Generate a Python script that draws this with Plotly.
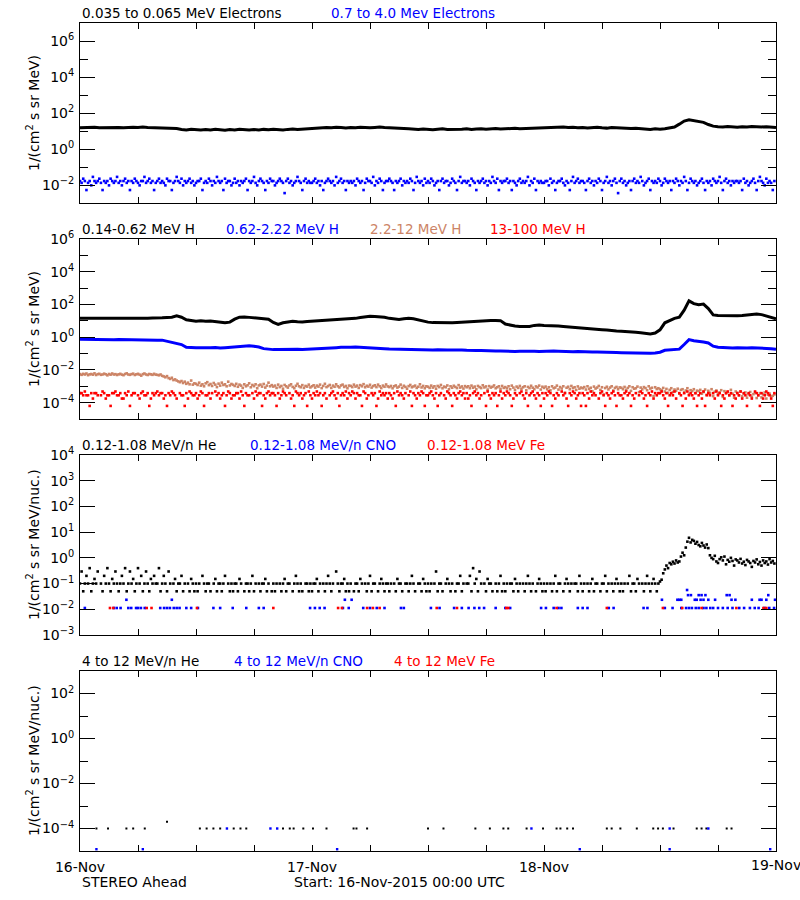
import numpy as np
import pandas as pd
import plotly.graph_objects as go

START = pd.Timestamp("2015-11-16 00:00")
END = pd.Timestamp("2015-11-19 00:00")

# ---------------- Panel 1: electrons ----------------
# 0.035-0.065 MeV electrons, log10 flux every 30 min
e_lo_log = [1.18,1.20,1.19,1.21,1.18,1.19,1.20,1.22,1.19,1.18,1.20,1.21,1.19,1.22,1.20,1.19,1.21,
            1.20,1.18,1.16,1.14,1.08,1.06,1.10,1.07,
            1.06,1.08,1.05,1.09,1.07,1.04,1.08,1.06,1.10,1.07,1.05,1.08,1.06,1.09,1.07,1.10,1.08,1.06,1.09,1.11,1.08,1.10,1.13,
            1.16,1.19,1.17,1.20,1.18,1.21,1.19,1.17,1.20,1.18,1.21,1.19,1.18,1.20,1.22,1.19,1.18,1.20,1.17,
            1.14,1.12,1.10,1.08,1.11,1.09,1.07,1.10,1.12,1.09,1.08,1.11,1.10,1.12,1.09,1.11,1.13,1.10,1.12,1.14,1.11,1.13,1.12,1.15,1.13,1.14,1.16,1.14,
            1.17,1.19,1.21,1.18,1.20,1.22,1.19,1.21,1.18,1.20,1.17,1.19,1.21,1.18,1.16,1.19,1.17,1.15,1.16,1.14,1.15,1.13,
            1.11,1.09,1.12,1.10,1.13,1.16,
            1.22,1.38,1.55,1.62,1.58,1.54,1.48,1.36,1.27,
            1.24,1.22,1.25,1.23,1.21,1.24,1.22,1.25,1.23,1.22,1.24,1.21,1.19]

# 0.7-4.0 MeV electrons: count-quantised levels (log10), 10-min codes
e_hi_levels = [-1.55, -1.65, -1.78, -1.88, -2.02, -2.28, -2.45]
e_hi_code = [3,4,2,3,6,4,3,5,1,3,4,3,2,4,6,3,4,3,5,2,3,4,3,1,
             4,3,5,3,2,4,3,6,3,4,2,3,4,5,3,3,1,4,3,2,4,3,6,4,
             3,2,4,3,4,5,2,3,3,6,4,3,1,3,4,2,5,3,4,3,2,4,3,5,
             4,3,3,2,6,4,3,4,2,3,5,3,4,1,3,4,3,6,2,4,3,3,5,4,
             2,4,3,5,3,4,3,2,6,3,4,3,1,4,5,3,2,3,4,6,3,4,2,3,
             3,5,4,3,2,3,4,7,3,2,4,3,5,4,3,1,3,4,6,3,2,4,3,4,
             4,3,2,4,3,5,3,6,4,3,2,3,4,3,5,1,4,3,2,4,3,6,3,4,
             3,4,3,5,2,3,4,3,6,4,2,3,3,4,1,5,3,4,2,3,6,4,3,3,
             2,3,4,6,3,4,3,2,5,3,4,3,4,2,3,6,4,1,3,4,3,5,2,4,
             3,4,2,3,5,4,3,6,3,2,4,3,3,5,4,2,3,4,6,3,1,4,3,3,
             4,3,5,2,3,4,6,3,4,3,2,4,3,5,3,4,1,3,4,2,6,3,4,3,
             3,2,4,3,6,3,4,5,3,2,4,3,4,3,1,5,3,4,2,6,3,4,3,4,
             4,3,3,5,2,4,3,6,4,3,3,2,4,5,3,4,6,3,1,4,3,2,4,3,
             3,4,6,3,2,4,3,5,3,4,2,3,6,4,3,1,4,3,5,3,2,4,7,3,
             2,4,3,5,4,3,6,3,2,4,3,4,1,3,5,4,3,2,6,3,4,3,4,2,
             3,5,4,2,3,4,3,6,3,4,2,3,5,3,4,1,3,6,4,2,3,4,3,5,
             4,3,2,4,6,3,4,3,5,2,3,4,3,1,4,6,3,2,4,3,5,3,4,3,
             3,4,3,6,2,4,3,5,4,3,2,4,6,3,1,3,4,5,2,4,3,4,6,3]

# ---------------- Panel 2: protons ----------------
# 0.14-0.62 MeV H, log10 every 30 min
h1_log = [1.16,1.15,1.16,1.15,1.15,1.16,1.15,1.14,1.15,1.16,1.15,1.15,1.14,1.15,1.16,1.17,1.16,1.18,1.20,1.22,
          1.30,1.22,1.06,1.00,0.98,1.00,0.97,0.99,0.96,0.93,0.88,0.92,1.10,1.22,1.24,1.21,1.19,1.18,1.15,1.10,0.90,0.78,0.88,0.95,
          0.98,0.95,0.93,0.96,0.98,1.00,0.99,1.03,1.05,1.07,1.08,1.10,1.12,1.15,1.20,1.25,1.28,1.27,1.25,1.22,1.15,1.10,1.08,1.12,
          1.15,1.12,1.05,0.98,0.92,0.89,0.88,0.89,0.87,0.88,0.90,0.92,0.94,0.98,1.00,1.02,1.03,1.02,1.02,1.01,0.80,0.72,0.68,0.66,
          0.64,0.66,0.72,0.75,0.72,0.72,0.70,0.68,0.66,0.63,0.62,0.58,0.54,0.51,0.50,0.48,0.46,0.44,0.40,0.38,0.37,0.36,0.33,0.30,0.27,0.22,0.20,0.25,
          0.45,0.88,1.00,1.15,1.22,1.65,2.22,2.05,1.98,2.02,1.75,1.36,
          1.33,1.32,1.34,1.33,1.31,1.33,1.35,1.40,1.42,1.38,1.30,1.22,1.13]

# 0.62-2.22 MeV H, log10 every 30 min
h2_log = [-0.12,-0.13,-0.12,-0.13,-0.14,-0.13,-0.14,-0.15,-0.14,-0.15,-0.16,-0.15,-0.16,-0.17,-0.16,-0.17,-0.18,-0.18,
          -0.25,-0.35,-0.38,-0.45,-0.62,-0.65,
          -0.65,-0.64,-0.66,-0.65,-0.63,-0.66,-0.64,-0.62,
          -0.56,-0.54,-0.55,-0.53,-0.56,-0.60,
          -0.70,-0.74,-0.76,-0.75,-0.74,-0.76,-0.75,-0.73,-0.75,-0.74,-0.72,
          -0.70,-0.68,-0.66,-0.65,-0.64,-0.62,-0.63,-0.62,-0.60,-0.61,-0.62,-0.64,-0.66,-0.68,-0.70,-0.72,-0.73,-0.74,
          -0.75,-0.74,-0.76,-0.75,-0.77,-0.76,-0.78,-0.77,-0.76,-0.78,-0.79,-0.77,-0.78,-0.80,-0.79,-0.81,-0.82,-0.84,-0.83,-0.85,-0.84,-0.86,-0.85,-0.87,
          -0.86,-0.85,-0.87,-0.86,-0.88,-0.86,-0.87,-0.85,-0.86,-0.88,-0.87,-0.89,-0.88,-0.90,-0.89,-0.91,-0.90,-0.92,-0.91,-0.93,-0.94,-0.95,-0.96,-0.95,-0.97,-0.98,-1.00,-0.98,-0.96,
          -0.92,-0.80,-0.78,-0.76,-0.73,-0.45,-0.15,-0.22,-0.28,-0.30,-0.35,-0.55,
          -0.62,-0.64,-0.65,-0.66,-0.65,-0.67,-0.66,-0.65,-0.66,-0.68,-0.67,-0.70,-0.74]

# 2.2-12 MeV H, log10 x 100, every 10 min
h3_log100 = [-226,-230,-224,-228,-222,-232,-227,-225,-229,-221,-231,-226,-224,-230,-228,-223,-227,-233,-225,-229,-222,-228,-226,-231,
             -227,-224,-229,-232,-225,-221,-228,-230,-226,-223,-231,-227,-224,-229,-235,-226,-222,-228,-231,-225,-227,-230,-224,-229,
             -230,-233,-228,-236,-240,-245,-238,-250,-255,-248,-262,-258,-265,-270,-275,-268,-280,-272,-285,-278,-288,-265,-290,-282,
             -285,-292,-278,-296,-288,-300,-282,-275,-293,-286,-298,-280,-290,-305,-284,-296,-278,-292,-288,-300,-272,-295,-286,-291,
             -298,-285,-303,-290,-296,-310,-288,-300,-294,-282,-306,-292,-299,-288,-312,-295,-290,-302,-286,-308,-296,-278,-300,-293,
             -302,-296,-310,-290,-305,-298,-315,-292,-300,-308,-295,-288,-304,-312,-297,-285,-300,-306,-293,-310,-298,-302,-290,-307,
             -300,-294,-308,-296,-302,-290,-311,-298,-285,-305,-299,-292,-310,-296,-303,-288,-300,-307,-295,-290,-304,-298,-312,-296,
             -298,-305,-290,-302,-296,-310,-293,-300,-287,-306,-297,-302,-291,-308,-299,-294,-305,-290,-300,-311,-296,-303,-289,-301,
             -305,-298,-312,-300,-295,-308,-302,-290,-310,-297,-304,-315,-299,-292,-306,-301,-296,-310,-303,-288,-307,-298,-312,-300,
             -303,-310,-296,-308,-300,-315,-298,-305,-292,-312,-302,-306,-295,-318,-300,-309,-297,-304,-311,-293,-308,-301,-314,-299,
             -306,-300,-312,-296,-309,-302,-318,-298,-305,-311,-294,-307,-301,-320,-299,-308,-303,-295,-312,-306,-300,-316,-298,-310,
             -305,-313,-300,-318,-296,-308,-322,-302,-310,-298,-315,-306,-300,-325,-304,-311,-297,-309,-318,-301,-307,-296,-320,-303,
             -310,-302,-318,-306,-325,-300,-312,-308,-296,-320,-305,-314,-300,-340,-309,-303,-318,-298,-311,-306,-322,-301,-315,-308,
             -312,-305,-320,-300,-316,-309,-330,-302,-314,-308,-298,-322,-306,-350,-311,-303,-319,-308,-300,-326,-310,-304,-318,-307,
             -309,-318,-304,-322,-310,-300,-328,-306,-315,-312,-302,-336,-308,-319,-305,-311,-324,-300,-314,-309,-360,-306,-317,-312,
             -318,-325,-310,-332,-316,-340,-322,-312,-335,-320,-328,-315,-345,-322,-318,-338,-326,-312,-350,-324,-330,-318,-342,-327,
             -330,-322,-345,-335,-320,-352,-328,-340,-318,-360,-333,-326,-348,-338,-324,-365,-330,-342,-336,-355,-322,-345,-370,-332,
             -340,-355,-332,-362,-345,-338,-370,-350,-335,-365,-348,-340,-372,-355,-342,-368,-350,-338,-375,-352,-345,-362,-358,-350]

# 13-100 MeV H: count-quantised levels (log10), 10-min codes, 0 = no data
h4_levels = [-3.32, -3.42, -3.55, -3.75, -4.20]
h4_code = [2,2,3,1,3,3,5,2,4,2,2,3,0,3,1,2,4,3,3,5,2,2,1,3,
           3,2,4,4,2,3,1,5,3,2,2,0,3,4,2,1,3,3,2,5,4,2,3,2,
           1,3,2,2,4,3,5,2,3,1,2,3,4,0,2,3,3,5,2,4,1,2,3,3,
           2,4,3,1,2,5,3,3,2,4,2,0,1,3,2,4,3,2,5,3,1,2,4,3,
           3,2,2,4,1,3,5,2,3,3,0,2,4,1,3,2,2,5,3,4,2,1,3,2,
           2,3,5,2,4,3,1,2,3,0,2,4,3,5,1,2,3,2,4,3,2,5,1,3,
           4,2,3,1,3,2,5,3,2,4,0,3,2,1,3,4,2,5,3,2,3,1,4,2,
           3,1,2,4,2,3,3,5,1,2,4,3,0,2,3,2,5,4,1,3,2,3,2,4,
           2,3,4,2,5,1,3,2,3,4,2,0,3,1,5,2,3,4,2,3,1,2,5,3,
           3,2,1,3,4,2,5,3,2,0,3,4,1,2,3,5,2,3,4,2,1,3,2,4,
           2,4,3,5,2,1,3,2,4,3,0,2,5,1,3,4,2,3,2,5,3,1,4,2,
           3,1,2,3,5,4,2,3,0,2,1,3,4,2,5,3,2,1,3,4,2,3,5,2,
           4,2,3,1,2,5,3,4,2,3,0,1,3,2,4,5,2,3,1,2,4,3,2,5,
           2,3,5,2,4,1,3,2,3,0,4,2,1,3,5,2,3,4,2,1,3,5,2,3,
           3,4,2,1,3,2,5,3,4,2,0,3,1,2,4,3,5,2,3,1,4,2,3,2,
           2,1,3,4,2,5,3,2,3,1,4,0,2,3,5,2,4,1,3,2,3,4,2,5,
           3,2,4,1,5,3,2,3,0,2,4,1,3,2,5,3,4,2,1,3,2,5,3,4,
           2,3,1,4,2,3,5,2,3,4,0,1,2,3,5,2,4,3,1,2,3,4,5,2]

# ---------------- Panel 3: 0.12-1.08 MeV/n ions ----------------
he_levels = [-1.30, -1.00, -0.82, -0.70, -0.53, -0.40]
he_code = [2,5,1,2,4,2,6,1,2,3,2,5,0,2,1,4,2,6,2,1,3,2,5,2,
           1,2,4,2,6,1,2,5,2,3,1,2,6,2,4,1,2,5,2,1,3,2,4,2,
           2,6,1,2,4,2,1,5,2,0,2,3,1,2,2,4,1,2,0,2,1,3,2,1,
           2,1,2,0,4,2,1,2,2,1,0,2,3,1,2,2,1,2,4,0,2,1,2,1,
           2,2,1,3,2,0,1,2,2,1,2,4,1,2,0,2,1,2,2,3,1,2,0,1,
           2,1,2,0,2,1,2,3,1,2,2,0,1,2,4,2,1,2,1,0,2,2,1,2,
           1,2,2,3,1,2,0,2,1,2,4,2,1,2,0,5,2,1,2,2,3,1,2,1,
           2,0,1,2,2,1,3,2,0,2,1,2,4,1,2,2,0,1,2,3,2,1,2,2,
           1,2,0,2,1,3,2,2,1,0,2,2,1,2,4,2,1,0,2,2,1,3,2,1,
           2,1,2,0,2,5,1,2,2,1,0,2,3,2,1,2,0,1,2,2,4,1,2,0,
           2,2,4,1,6,2,3,1,5,2,0,2,1,3,2,2,1,0,2,1,2,4,1,2,
           1,2,0,2,2,1,3,2,1,2,0,2,1,2,4,2,1,2,0,1,2,3,2,1,
           2,1,2,0,2,1,2,4,1,2,2,0,1,2,3,2,1,2,0,2,2,1,4,2,
           1,2,0,2,1,2,3,1,2,2,0,1,2,2,4,1,2,0,2,1,2,3,2,1,
           2,1,2,0,2,4,1,2,2,1,3,2,0,2,1,2,4,2,1,2,3,2,1,2]
# He during the event (from 60 h on), log10 x 100, every 10 min
he_event_log100 = [-92,-85,-60,-45,-30,-40,-20,-25,-15,-22,-10,-18,-14,5,20,10,40,63,
                   78,60,70,66,55,62,50,45,58,48,40,52,38,10,0,-5,8,-14,
                   -20,-5,2,-10,5,-25,-8,-15,0,-12,-30,-6,-10,-18,-4,-22,-15,-28,
                   -8,-14,-20,-35,-12,-18,-6,-25,-16,-30,-10,-20,-14,-26,-5,-18,-12,-22]

cno_lv = [-1.95, -1.63, -1.45, -1.25]
cno_h_l1 = [0.5,3.5,3.8,4.2,5.0,5.3,5.8,6.0,6.3,6.7,8.3,8.7,9.0,9.3,9.7,10.0,10.3,11.0,11.5,12.2,13.8,14.5,
            15.8,17.2,18.5,19.0,23.8,24.3,24.8,25.3,27.2,27.8,29.3,30.0,30.7,31.5,33.2,33.5,36.3,37.2,38.7,
            39.5,40.2,40.8,41.3,41.8,43.0,44.0,44.5,47.7,48.2,49.0,49.5,49.8,51.5,52.0,52.5,54.7,55.2,58.3,
            58.7,60.5,61.3,62.2,62.7,63.0,63.3,63.7,64.0,64.5,64.8,65.2,65.5,66.0,66.5,67.0,67.5,68.2,68.7,
            69.3,69.8,70.2,70.8,71.3,71.8]
cno_h_l2 = [4.8,9.5,27.4,28.1,60.2,61.8,62.0,62.2,63.6,63.8,64.2,64.5,65.0,65.7,67.4,67.8,69.5,70.3,70.5,71.0,71.9]
cno_h_l3 = [62.9,63.2,64.0,64.3,64.7,66.9,67.2,71.2]
cno_h_l4 = [62.8]

fe_lv = -1.95
fe_h = [3.1,3.45,6.9,7.4,12.1,20.0,26.7,27.1,29.7,30.3,31.0,36.9,39.0,44.1,44.3,49.3,54.5,60.3,62.3,64.3,67.9,70.7,71.0]

# ---------------- Panel 4: 4-12 MeV/n ions ----------------
he4_h = [1.7,2.9,4.8,5.5,6.7,9.0,12.4,13.1,13.8,14.5,15.9,16.6,17.2,21.0,21.7,22.1,23.1,24.1,25.5,28.3,28.6,29.7,
         36.0,37.6,40.9,42.4,43.8,44.3,46.2,47.9,49.3,49.7,50.4,51.0,54.5,55.0,55.9,57.6,59.3,59.8,60.3,61.4,
         63.8,64.3,64.8,66.9,67.4]
he4_log = [-4.0]*5 + [-3.7] + [-4.0]*41
cno4_h = [15.2,19.7,20.4,46.7,61.0,65.0, 1.7,6.5,26.6,51.7,61.0,71.4]
cno4_log = [-4.0]*6 + [-4.92]*6

x_tick_labels = ["16-Nov", "17-Nov", "18-Nov", "19-Nov"]

# ---------------- helpers ----------------
TAN = "rgb(204,132,102)"
FONT = "DejaVu Sans"


def at_hours(h):
    return START + pd.to_timedelta(np.asarray(h, dtype=float), unit="h")


def every(n, minutes):
    return START + pd.to_timedelta(np.arange(n) * minutes, unit="min")


def pw(logs):
    return [None if v is None else 10.0 ** v for v in logs]


def from_codes(codes, levels):
    return [levels[c - 1] if c > 0 else None for c in codes]


fig = go.Figure()


def dots(x, y, color, ax, size=2.6):
    fig.add_trace(go.Scatter(x=x, y=y, mode="markers", xaxis=ax[0], yaxis=ax[1],
                             marker=dict(symbol="square", size=size, color=color, line=dict(width=0)),
                             hoverinfo="skip"))


def line(x, y, color, ax, width=3):
    fig.add_trace(go.Scatter(x=x, y=y, mode="lines", xaxis=ax[0], yaxis=ax[1],
                             line=dict(color=color, width=width), hoverinfo="skip"))


A1, A2, A3, A4 = ("x", "y"), ("x2", "y2"), ("x3", "y3"), ("x4", "y4")

# panel 1
line(every(len(e_lo_log), 30), pw(e_lo_log), "black", A1, 3)
dots(every(len(e_hi_code), 10), pw(from_codes(e_hi_code, e_hi_levels)), "blue", A1)

# panel 2
line(every(len(h1_log), 30), pw(h1_log), "black", A2, 3)
line(every(len(h2_log), 30), pw(h2_log), "blue", A2, 3)
dots(every(len(h3_log100), 10), pw([v / 100 for v in h3_log100]), TAN, A2)
dots(every(len(h4_code), 10), pw(from_codes(h4_code, h4_levels)), "red", A2)

# panel 3
he_all = from_codes(he_code, he_levels) + [v / 100 for v in he_event_log100]
dots(every(len(he_all), 10), pw(he_all), "black", A3, 2.6)
cno_h = cno_h_l1 + cno_h_l2 + cno_h_l3 + cno_h_l4
cno_v = ([cno_lv[0]] * len(cno_h_l1) + [cno_lv[1]] * len(cno_h_l2)
         + [cno_lv[2]] * len(cno_h_l3) + [cno_lv[3]] * len(cno_h_l4))
dots(at_hours(cno_h), pw(cno_v), "blue", A3, 2.6)
dots(at_hours(fe_h), pw([fe_lv] * len(fe_h)), "red", A3, 2.6)

# panel 4
dots(at_hours(he4_h), pw(he4_log), "black", A4, 2)
dots(at_hours(cno4_h), pw(cno4_log), "blue", A4, 2.4)

# ---------------- layout ----------------
W, H = 800, 900
PX0, PX1 = 80, 776
tops = [23, 239, 455, 671]
PH = 180


def ydom(top):
    return [1 - (top + PH) / H, 1 - top / H]


def sup(k):
    s = str(k).replace("-", "\u2212")
    return "10<sup>" + s + "</sup>"


def ycfg(top, rng, major, minor, anchor):
    return dict(type="log", domain=ydom(top), range=rng, anchor=anchor, automargin=False,
                tickmode="array", tickvals=[10.0 ** k for k in major], ticktext=[sup(k) for k in major],
                ticks="inside", ticklen=15, tickwidth=1, tickcolor="black",
                minor=dict(tickmode="array", tickvals=[10.0 ** k for k in minor], ticks="inside",
                           ticklen=8, tickwidth=1, tickcolor="black", showgrid=False),
                showline=True, linecolor="black", linewidth=1, mirror="ticks",
                showgrid=False, zeroline=False, ticklabelstandoff=2,
                tickfont=dict(family=FONT, size=14, color="black"))


def xcfg(anchor, show):
    return dict(type="date", domain=[PX0 / W, PX1 / W], range=[START, END], anchor=anchor, automargin=False,
                tickmode="array", tickvals=[START + pd.Timedelta(days=d) for d in range(4)],
                ticktext=x_tick_labels[:3] + [""],
                ticks="inside", ticklen=6, tickwidth=1, tickcolor="black",
                minor=dict(tickmode="array",
                           tickvals=[START + pd.Timedelta(hours=6 * k) for k in range(13)],
                           ticks="inside", ticklen=6, tickwidth=1, tickcolor="black", showgrid=False),
                showline=True, linecolor="black", linewidth=1, mirror="ticks",
                showgrid=False, zeroline=False, showticklabels=show, ticklabelstandoff=3,
                tickfont=dict(family=FONT, size=14, color="black"))


fig.update_layout(
    width=W, height=H, margin=dict(l=0, r=0, t=0, b=0, autoexpand=False),
    paper_bgcolor="white", plot_bgcolor="white", showlegend=False,
    xaxis=xcfg("y", False), xaxis2=xcfg("y2", False), xaxis3=xcfg("y3", False), xaxis4=xcfg("y4", True),
    yaxis=ycfg(tops[0], [-3, 7], [-2, 0, 2, 4, 6], [-1, 1, 3, 5], "x"),
    yaxis2=ycfg(tops[1], [-5, 6], [-4, -2, 0, 2, 4, 6], [-3, -1, 1, 3, 5], "x2"),
    yaxis3=ycfg(tops[2], [-3, 4], [-3, -2, -1, 0, 1, 2, 3, 4], [], "x3"),
    yaxis4=ycfg(tops[3], [-5, 3], [-4, -2, 0, 2], [-3, -1, 1], "x4"),
)

annots = []


def text(px, py, s, color="black", size=13.5, anchor="left", angle=0):
    annots.append(dict(x=px / W, y=1 - py / H, xref="paper", yref="paper", text=s, showarrow=False,
                       xanchor=anchor, yanchor="middle", textangle=angle,
                       font=dict(family=FONT, size=size, color=color)))


titles = [
    [(80, "0.035 to 0.065 MeV Electrons", "black"), (329, "0.7 to 4.0 Mev Electrons", "blue")],
    [(80, "0.14-0.62 MeV H", "black"), (224, "0.62-2.22 MeV H", "blue"),
     (368, "2.2-12 MeV H", TAN), (488, "13-100 MeV H", "red")],
    [(80, "0.12-1.08 MeV/n He", "black"), (248, "0.12-1.08 MeV/n CNO", "blue"),
     (425, "0.12-1.08 MeV Fe", "red")],
    [(80, "4 to 12 MeV/n He", "black"), (232, "4 to 12 MeV/n CNO", "blue"),
     (392, "4 to 12 MeV Fe", "red")],
]
for top, row in zip(tops, titles):
    for px, s, c in row:
        text(px, top - 10, s, c)

ytitles = ["1/(cm<sup>2</sup> s sr MeV)", "1/(cm<sup>2</sup> s sr MeV)",
           "1/(cm<sup>2</sup> s sr MeV/nuc.)", "1/(cm<sup>2</sup> s sr MeV/nuc.)"]
for top, s in zip(tops, ytitles):
    text(33, top + PH / 2, s, size=14, anchor="center", angle=-90)

# last date label sits on the right frame edge
text(PX1, 865, x_tick_labels[3], size=14, anchor="center")
text(80, 882, "STEREO Ahead", size=14)
text(292, 882, "Start: 16-Nov-2015 00:00 UTC", size=14)

fig.update_layout(annotations=annots)
fig.write_html("out.html", config={"displayModeBar": False},
               post_script="document.body.style.margin='0px';document.body.style.overflow='hidden';")
